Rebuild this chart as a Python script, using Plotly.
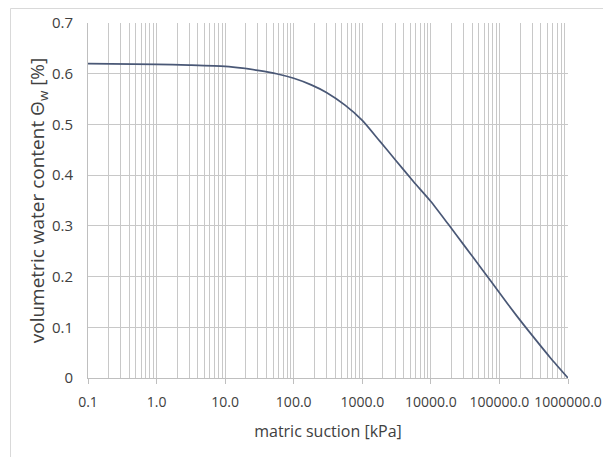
import plotly.graph_objects as go

# matric suction [kPa]
suction = [0.1, 1, 3, 10, 18, 30, 56, 100, 180, 300, 560, 1000, 1800, 3000,
           5600, 10000, 18000, 30000, 56000, 100000, 180000, 300000, 560000, 1000000]
# volumetric water content
theta = [0.620, 0.6185, 0.617, 0.6145, 0.611, 0.6065, 0.600, 0.591, 0.578, 0.563,
         0.538, 0.508, 0.467, 0.431, 0.387, 0.348, 0.303, 0.263, 0.214, 0.168,
         0.122, 0.084, 0.039, 0.0]

x_tickvals = [0.1, 1, 10, 100, 1000, 10000, 100000, 1000000]
x_ticktext = ["0.1", "1.0", "10.0", "100.0", "1000.0", "10000.0", "100000.0", "1000000.0"]
y_tickvals = [0, 0.1, 0.2, 0.3, 0.4, 0.5, 0.6, 0.7]
y_ticktext = ["0", "0.1", "0.2", "0.3", "0.4", "0.5", "0.6", "0.7"]

FONT = "Open Sans"
TXT = "#404040"
GRID = "#c8c8c8"

fig = go.Figure()
fig.add_trace(go.Scatter(x=suction, y=theta, mode="lines",
                         line=dict(color="#4a5876", width=1.7, shape="spline", smoothing=0.6),
                         showlegend=False, hoverinfo="skip"))

# page body has an 8px margin; figure sized to fit the 611x465 window
W, H = 595, 449
L, R, T, B = 80, 35, 15, 79
pw, ph = W - L - R, H - T - B

def px2paper_x(px):
    return (px - L) / pw

def py2paper_y(py):
    return 1 - (py - T) / ph

fig.add_shape(type="rect", xref="paper", yref="paper",
              x0=px2paper_x(2.5), x1=px2paper_x(620),
              y0=py2paper_y(470), y1=py2paper_y(0.5),
              line=dict(color="#d9d9d9", width=1), fillcolor="rgba(0,0,0,0)",
              layer="below")

fig.update_layout(
    width=W, height=H,
    margin=dict(l=L, r=R, t=T, b=B, pad=0, autoexpand=False),
    paper_bgcolor="white", plot_bgcolor="white",
    font=dict(family=FONT, size=14, color=TXT),
)
fig.update_xaxes(
    type="log", range=[-1, 6], automargin=False,
    tickvals=x_tickvals, ticktext=x_ticktext,
    showgrid=True, gridcolor=GRID, gridwidth=1,
    minor=dict(dtick="D1", showgrid=True, gridcolor=GRID, gridwidth=1, ticks=""),
    showline=True, linecolor="#bfbfbf", linewidth=1,
    ticks="outside", ticklen=5, tickcolor="#bfbfbf",
    ticklabelstandoff=6,
    tickfont=dict(family=FONT, size=14, color=TXT),
    title=dict(text="matric suction [kPa]", font=dict(family=FONT, size=16, color=TXT), standoff=16),
    zeroline=False,
)
fig.update_yaxes(
    range=[0, 0.7], automargin=False,
    tickvals=y_tickvals, ticktext=y_ticktext,
    showgrid=True, gridcolor=GRID, gridwidth=1,
    showline=True, linecolor="#bfbfbf", linewidth=1,
    ticks="", ticklabelstandoff=11,
    tickfont=dict(family=FONT, size=15, color=TXT),
    title=dict(text="volumetric water content Θ<sub>w</sub> [%]",
               font=dict(family=FONT, size=19, color=TXT), standoff=2),
    zeroline=False,
)

fig.write_html("out.html")
